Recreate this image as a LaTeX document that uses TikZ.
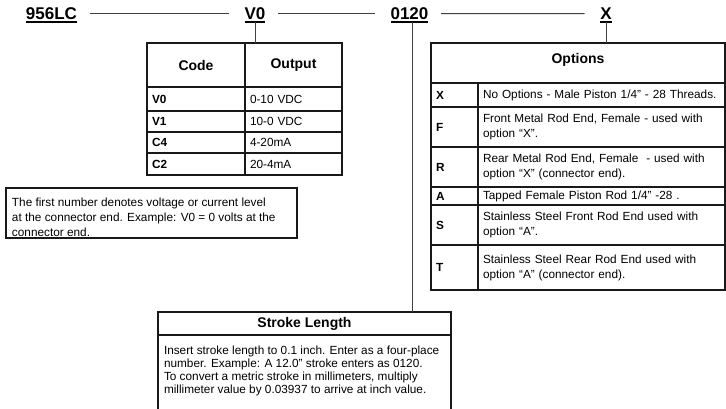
\documentclass[tikz,border=0pt]{standalone}
\usepackage{fontspec}
\setmainfont{Liberation Sans}
\usetikzlibrary{positioning}

% underlined part-number field, no depth below the baseline
\newcommand{\partul}[1]{\raisebox{0pt}[\height][0pt]{\vtop{\hbox{#1}\kern1.8pt\hrule height 1.2pt}}}

\begin{document}
\begin{tikzpicture}[
  x=1pt, y=-1pt,
  part/.style={inner sep=2.5pt, anchor=base, font=\fontsize{17}{20}\selectfont\bfseries},
  link/.style={draw=black!75, line width=0.9pt},
  cell/.style={draw=black!90, line width=1.2pt, anchor=north west, outer sep=0pt,
               inner xsep=5pt, inner ysep=0pt, font=\fontsize{11.8}{15}\selectfont},
  head/.style={cell, font=\fontsize{14}{16}\selectfont\bfseries},
  key/.style={cell, align=left, font=\fontsize{11.8}{15}\selectfont\bfseries},
  desc/.style={cell, align=left},
]
  \useasboundingbox (0,0) rectangle (726,408);

  % part number
  \node[part] (t956)  at (51.5,19.5) {\partul{956LC}};
  \node[part] (tV0)   at (255,19.5)  {\partul{V0}};
  \node[part] (t0120) at (409.5,19.5) {\partul{0120}};
  \node[part] (tX)    at (606,19.5)  {\partul{X}};

  \draw[link, shorten <=10pt, shorten >=13pt] (t956) -- (tV0);
  \draw[link, shorten <=10pt, shorten >=13pt] (tV0) -- (t0120);
  \draw[link, shorten <=10pt, shorten >=13pt] (t0120) -- (tX);

  % output table
  \node[head, minimum width=98pt, minimum height=44pt] (hCode) at (147,43) {Code};
  \node[head, minimum width=97pt, minimum height=44pt] (hOut) at (hCode.north east) {Output};
  \node[key, text width=88pt, minimum height=24pt] (cV0) at (hCode.south west) {V0};
  \node[desc, text width=87pt, minimum height=24pt] (oV0) at (cV0.north east) {0-10 VDC};
  \node[key, text width=88pt, minimum height=21pt] (cV1) at (cV0.south west) {V1};
  \node[desc, text width=87pt, minimum height=21pt] (oV1) at (cV1.north east) {10-0 VDC};
  \node[key, text width=88pt, minimum height=21pt] (cC4) at (cV1.south west) {C4};
  \node[desc, text width=87pt, minimum height=21pt] (oC4) at (cC4.north east) {4-20mA};
  \node[key, text width=88pt, minimum height=22pt] (cC2) at (cC4.south west) {C2};
  \node[desc, text width=87pt, minimum height=22pt] (oC2) at (cC2.north east) {20-4mA};

  \node[cell, inner xsep=6pt] (note) at (6,188)
    {\parbox[t][50pt][t]{279pt}{\fontsize{11.8}{14.7}\selectfont\vspace*{8.5pt}\strut
     The first number denotes voltage or current level\\
     at the connector end. Example: V0 = 0 volts at the\\
     connector end.}};

  % options table
  \node[head, minimum width=294pt, minimum height=40pt] (hOpt) at (431,43)
    {\raisebox{0pt}[0pt][0pt]{Options}};
  \node[key, text width=37pt, minimum height=24pt] (kX) at (hOpt.south west) {X};
  \node[desc, text width=237pt, minimum height=24pt] (dX) at (kX.north east)
    {No Options - Male Piston 1/4” - 28 Threads.};
  \node[key, text width=37pt, minimum height=40pt] (kF) at (kX.south west) {F};
  \node[desc, text width=237pt, minimum height=40pt] (dF) at (kF.north east)
    {Front Metal Rod End, Female - used with\\option “X”.};
  \node[key, text width=37pt, minimum height=40pt] (kR) at (kF.south west) {R};
  \node[desc, text width=237pt, minimum height=40pt] (dR) at (kR.north east)
    {Rear Metal Rod End, Female \ - used with\\option “X” (connector end).};
  \node[key, text width=37pt, minimum height=18pt] (kA) at (kR.south west) {A};
  \node[desc, text width=237pt, minimum height=18pt] (dA) at (kA.north east)
    {Tapped Female Piston Rod 1/4” -28 .};
  \node[key, text width=37pt, minimum height=40pt] (kS) at (kA.south west) {S};
  \node[desc, text width=237pt, minimum height=40pt] (dS) at (kS.north east)
    {Stainless Steel Front Rod End used with\\option “A”.};
  \node[key, text width=37pt, minimum height=45pt] (kT) at (kS.south west) {T};
  \node[desc, text width=237pt, minimum height=45pt] (dT) at (kT.north east)
    {Stainless Steel Rear Rod End used with\\option “A” (connector end).};

  % stroke length
  \node[head, minimum width=293pt, minimum height=23pt] (hStroke) at (158,312) {Stroke Length};
  \node[cell, inner xsep=6pt, inner ysep=10pt] (stroke) at (hStroke.south west)
    {\parbox[t][75pt][t]{281pt}{\fontsize{11.8}{13}\selectfont\strut
     Insert stroke length to 0.1 inch. Enter as a four-place\\
     number. Example: A 12.0” stroke enters as 0120.\\
     To convert a metric stroke in millimeters, multiply\\
     millimeter value by 0.03937 to arrive at inch value.}};

  \draw[link] (tV0.south) -- (tV0.south |- hOut.north);
  \draw[link] (tX.south) -- (tX.south |- hOpt.north);
  \draw[link] ([xshift=2.5pt]t0120.south) -- ([xshift=2.5pt]t0120.south |- hStroke.north);
\end{tikzpicture}
\end{document}
